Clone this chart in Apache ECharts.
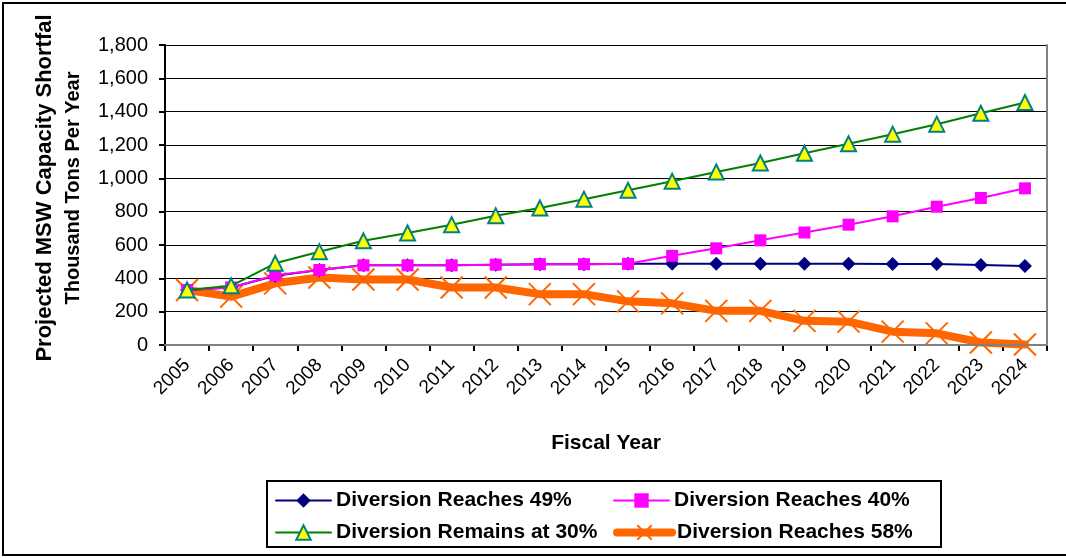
<!DOCTYPE html>
<html>
<head>
<meta charset="utf-8">
<script src="https://cdn.jsdelivr.net/npm/echarts@6/dist/echarts.min.js"></script>
<style>
html,body{margin:0;padding:0;background:#fff;}
#chart{width:1066px;height:558px;position:relative;}
#frame{position:absolute;left:2px;top:2px;width:1070px;height:554px;border:2px solid #000;box-sizing:border-box;pointer-events:none;}
</style>
</head>
<body>
<div id="chart"></div>
<div id="frame"></div>
<script>
const years = ['2005','2006','2007','2008','2009','2010','2011','2012','2013','2014','2015','2016','2017','2018','2019','2020','2021','2022','2023','2024'];
const div49 = [330, 345, 415, 450, 478, 478, 478, 482, 485, 485, 487, 488, 488, 488, 487, 487, 486, 486, 480, 474];
const div40 = [330, 345, 418, 450, 478, 478, 478, 482, 485, 485, 487, 535, 580, 628, 675, 722, 772, 830, 882, 940];
const div30 = [330, 355, 490, 560, 625, 672, 722, 775, 822, 875, 928, 982, 1038, 1092, 1150, 1207, 1265, 1325, 1390, 1455];
const div58 = [330, 290, 370, 405, 393, 393, 345, 345, 305, 305, 262, 250, 205, 205, 145, 140, 80, 70, 15, 3];
const seriesNames = ['Diversion Reaches 49%', 'Diversion Reaches 40%', 'Diversion Remains at 30%', 'Diversion Reaches 58%'];
const yTitle = ['Projected MSW Capacity Shortfal', 'Thousand Tons Per Year'];
const yTicks = {min: 0, max: 1800, interval: 200};

const FONT = "'Liberation Sans', Arial, sans-serif";
const fmt = v => String(v).replace(/\B(?=(\d{3})+(?!\d))/g, ',');

const chart = echarts.init(document.getElementById('chart'), null, {renderer: 'canvas'});

function legendAt(name, left, top) {
  return {
    data: [name], left: left, top: top, orient: 'horizontal',
    padding: 0, itemWidth: 55, itemHeight: 18, itemGap: 0,
    lineStyle: {width: 'inherit', cap: 'round'},
    itemStyle: {borderWidth: 'inherit'},
    textStyle: {fontFamily: FONT, fontSize: 21, fontWeight: 'bold', color: '#000'}
  };
}

const option = {
  animation: false,
  backgroundColor: '#fff',
  grid: {left: 165, right: 19, top: 45, bottom: 213, containLabel: false},
  xAxis: [{
    type: 'category', data: years, boundaryGap: true, position: 'bottom',
    axisLine: {lineStyle: {color: '#000', width: 2}},
    axisTick: {show: true, inside: false, length: 6, lineStyle: {color: '#000', width: 2}},
    axisLabel: {rotate: 45, margin: 17, interval: 0, fontFamily: FONT, fontSize: 19, color: '#000'},
    name: 'Fiscal Year', nameLocation: 'middle', nameGap: 88,
    nameTextStyle: {fontFamily: FONT, fontSize: 21, fontWeight: 'bold', color: '#000'}
  }, {
    type: 'category', data: years, position: 'top', z: 5,
    axisLine: {show: true, lineStyle: {color: '#808080', width: 2}},
    axisTick: {show: false}, axisLabel: {show: false}, splitLine: {show: false}
  }],
  yAxis: [{
    type: 'value', min: yTicks.min, max: yTicks.max, interval: yTicks.interval, position: 'left',
    axisLine: {show: true, lineStyle: {color: '#000', width: 2}},
    axisTick: {show: true, length: 6, lineStyle: {color: '#000', width: 2}},
    axisLabel: {margin: 17, fontFamily: FONT, fontSize: 20, color: '#000', formatter: fmt},
    splitLine: {show: true, lineStyle: {color: '#000', width: 1}},
    name: '{a|' + yTitle[0] + '}\n{b|' + yTitle[1] + '}',
    nameLocation: 'middle', nameGap: 77, nameRotate: 90,
    nameTextStyle: {
      fontFamily: FONT, fontSize: 20, fontWeight: 'bold', color: '#000', padding: [0, 0, 0, 14],
      rich: {
        a: {fontFamily: FONT, fontSize: 22, fontWeight: 'bold', color: '#000', lineHeight: 29},
        b: {fontFamily: FONT, fontSize: 20, fontWeight: 'bold', color: '#000', lineHeight: 29}
      }
    }
  }, {
    type: 'value', min: yTicks.min, max: yTicks.max, interval: yTicks.interval, position: 'right', z: 5,
    axisLine: {show: true, lineStyle: {color: '#808080', width: 2}},
    axisTick: {show: false}, axisLabel: {show: false}, splitLine: {show: false}
  }],
  legend: [
    legendAt(seriesNames[0], 275, 490),
    legendAt(seriesNames[1], 613, 490),
    legendAt(seriesNames[2], 275, 522),
    legendAt(seriesNames[3], 613, 522)
  ],
  graphic: [{
    type: 'rect', z: 10, silent: true,
    shape: {x: 267, y: 481, width: 674, height: 66},
    style: {fill: 'none', stroke: '#000', lineWidth: 2}
  }],
  series: [{
    name: seriesNames[0], type: 'line', data: div49, z: 2,
    symbol: 'diamond', symbolSize: 14, showAllSymbol: true,
    itemStyle: {color: '#000080'},
    lineStyle: {color: '#000080', width: 2}
  }, {
    name: seriesNames[1], type: 'line', data: div40, z: 3,
    symbol: 'rect', symbolSize: 12, showAllSymbol: true,
    itemStyle: {color: '#FF00FF'},
    lineStyle: {color: '#FF00FF', width: 2}
  }, {
    name: seriesNames[2], type: 'line', data: div30, z: 4,
    symbol: 'triangle', symbolSize: 15, showAllSymbol: true,
    itemStyle: {color: '#FFFF00', borderColor: '#008080', borderWidth: 2},
    lineStyle: {color: '#008000', width: 2}
  }, {
    name: seriesNames[3], type: 'line', data: div58, z: 1,
    symbol: 'path://M0,0L10,10M10,0L0,10', symbolSize: 22, showAllSymbol: true,
    itemStyle: {color: 'rgba(0,0,0,0)', borderColor: '#FF6600', borderWidth: 2},
    lineStyle: {color: '#FF6600', width: 8, cap: 'round', join: 'round'}
  }]
};
chart.setOption(option);
</script>
</body>
</html>
